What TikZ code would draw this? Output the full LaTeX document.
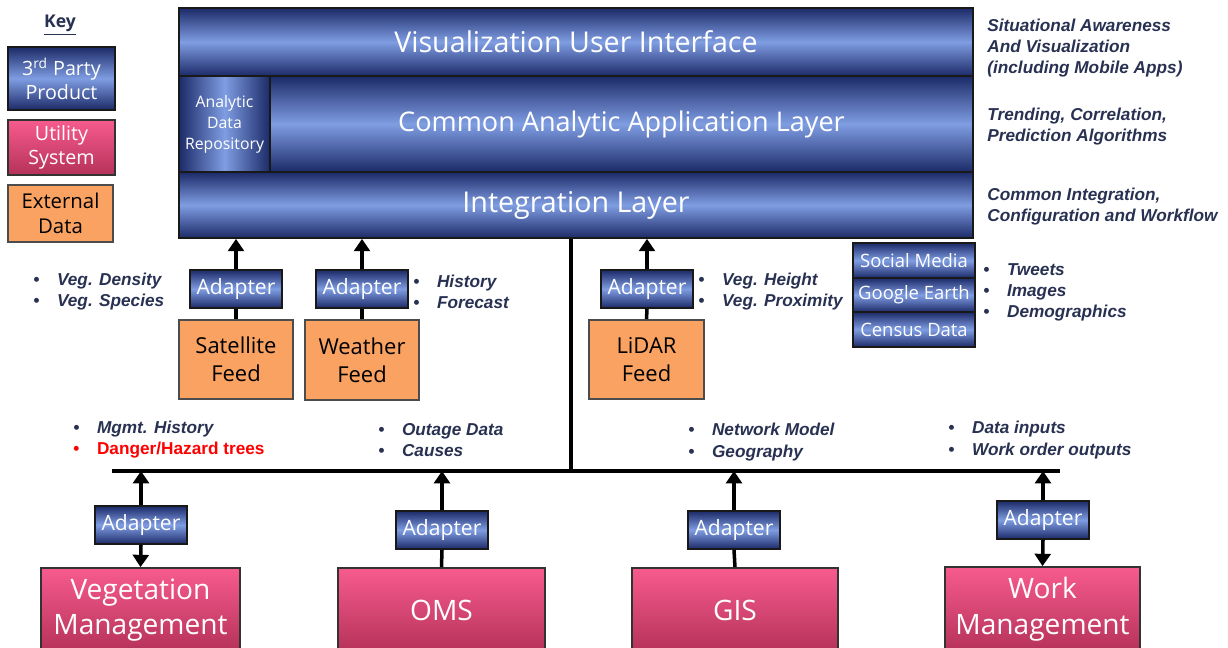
\documentclass[tikz,border=0pt]{standalone}
\usepackage{fontspec}
\setmainfont{Open Sans}
\newfontfamily\notefont{Liberation Sans}
\usepackage{tikz}
\usetikzlibrary{positioning, arrows.meta, calc}

\definecolor{navydark}{HTML}{1C2A68}
\definecolor{navylight}{HTML}{7F9DE2}
\definecolor{pinktop}{HTML}{F75B8E}
\definecolor{pinkbot}{HTML}{B5325A}
\definecolor{feedorange}{HTML}{F9A262}
\definecolor{notecol}{HTML}{283152}

\newcommand{\itm}{\makebox[13.5pt][l]{\textbullet}}

\tikzset{
  layer/.style={draw=black!90, line width=1pt, inner sep=0pt, top color=navydark, bottom color=navydark, middle color=navylight, text=white, align=center, font=\fontsize{16.3}{19}\selectfont},
  adapter/.style={layer, minimum width=1.84cm, minimum height=0.76cm, font=\fontsize{12}{14}\selectfont},
  utility/.style={draw=black!80, line width=1pt, inner sep=0pt, top color=pinktop, bottom color=pinkbot, text=white, align=center, font=\fontsize{16}{20.4}\selectfont},
  feed/.style={draw=black!70, line width=1pt, inner sep=0pt, fill=feedorange, align=center, font=\fontsize{12.5}{16}\selectfont},
  note/.style={text=notecol, align=left, inner sep=0pt, anchor=west, font=\notefont\bfseries\itshape\fontsize{9.8}{12}\selectfont},
  link/.style={line width=2pt},
  uparrow/.style={link, -{Triangle[length=7pt,width=9pt]}},
}

\begin{document}
\begin{tikzpicture}[x=0.02cm, y=-0.02cm]
    \useasboundingbox (0,0) rectangle (1228,647);
    \clip (0,0) rectangle (1228,647);

    % Key
    \node[text=notecol, font=\bfseries\fontsize{10}{12}\selectfont] (keytitle) at (60,25) {\underline{Key}};
    \node[layer, minimum width=2.14cm, minimum height=1.26cm, font=\fontsize{11.2}{13.6}\selectfont] (keyprod) at (61.5,78.5) {3\textsuperscript{rd} Party\\Product};
    \node[utility, minimum width=2.14cm, minimum height=1.1cm, font=\fontsize{11.2}{13.6}\selectfont] (keyutil) at (61.5,147.5) {Utility\\System};
    \node[feed, minimum width=2.1cm, minimum height=1.14cm, font=\fontsize{11.6}{14.4}\selectfont] (keyext) at (60.5,213.5) {External\\Data};

    % Layers
    \node[layer, minimum width=15.88cm, minimum height=1.36cm] (vui) at (576,42) {Visualization User Interface};
    \node[layer, shading angle=90, minimum width=1.82cm, minimum height=1.92cm, font=\fontsize{9}{12}\selectfont] (adr) at (224.5,124) {Analytic\\Data\\Repository};
    \node[layer, minimum width=14.06cm, minimum height=1.92cm, font=\fontsize{15.4}{19}\selectfont] (caal) at (621.5,124) {Common Analytic Application Layer};
    \node[layer, minimum width=15.88cm, minimum height=1.32cm] (integ) at (576,205) {Integration Layer};

    \node[note] (vuinote) at (987,48) {Situational Awareness\\And Visualization\\(including Mobile Apps)};
    \node[note] (caalnote) at (987,126.5) {Trending, Correlation,\\Prediction Algorithms};
    \node[note] (integnote) at (987,206.5) {Common Integration,\\Configuration and Workflow};

    % External feeds
    \node[adapter] (adsat) at (236,289) {Adapter};
    \node[adapter] (adwx) at (362,289) {Adapter};
    \node[adapter] (adlid) at (647,289) {Adapter};
    \node[feed, minimum width=2.28cm, minimum height=1.58cm] (sat) at (236,359.5) {Satellite\\Feed};
    \node[feed, minimum width=2.28cm, minimum height=1.6cm] (wx) at (362,360) {Weather\\Feed};
    \node[feed, minimum width=2.3cm, minimum height=1.58cm] (lidar) at (646.5,359.5) {LiDAR\\Feed};

    \draw[uparrow] (adsat.north) -- (adsat.north |- integ.south);
    \draw[uparrow] (adwx.north) -- (adwx.north |- integ.south);
    \draw[uparrow] (adlid.north) -- (adlid.north |- integ.south);
    \draw[link] (sat.north) -- (adsat.south);
    \draw[link] (wx.north) -- (adwx.south);
    \draw[link] (lidar.north) -- (adlid.south);

    \node[note] (satnote) at (33,291.5) {\itm Veg. Density\\\itm Veg. Species};
    \node[note] (wxnote) at (413,291.5) {\itm History\\\itm Forecast};
    \node[note] (lidnote) at (698,291.5) {\itm Veg. Height\\\itm Veg. Proximity};

    % Social sources
    \node[layer, minimum width=2.44cm, minimum height=0.7cm, font=\fontsize{10.5}{12}\selectfont] (social) at (914,260.5) {Social Media};
    \node[layer, minimum width=2.44cm, minimum height=0.68cm, font=\fontsize{10.5}{12}\selectfont] (gearth) at (914,295) {Google Earth};
    \node[layer, minimum width=2.44cm, minimum height=0.7cm, font=\fontsize{10.5}{12}\selectfont] (census) at (914,329.5) {Census Data};
    \node[note] (socnote) at (983,292.5) {\itm Tweets\\\itm Images\\\itm Demographics};

    % Bus
    \coordinate (busl) at (112,471);
    \coordinate (busr) at (1060,471);
    \coordinate (busj) at (571,471);
    \draw[link] (busl) -- (busr);
    \draw[link] (busj) -- (busj |- integ.south);

    % Utility systems
    \node[adapter] (adveg) at (141,525) {Adapter};
    \node[adapter] (adoms) at (442,530) {Adapter};
    \node[adapter] (adgis) at (734,530) {Adapter};
    \node[adapter] (adwm) at (1043,520) {Adapter};
    \node[utility, minimum width=3.98cm, minimum height=1.68cm] (veg) at (140.5,610) {Vegetation\\Management};
    \node[utility, minimum width=4.14cm, minimum height=1.68cm] (oms) at (441.5,610) {OMS};
    \node[utility, minimum width=4.12cm, minimum height=1.68cm] (gis) at (735,610) {GIS};
    \node[utility, minimum width=3.9cm, minimum height=1.7cm] (wm) at (1042.5,609.5) {Work\\Management};

    \draw[uparrow] (adveg.north) -- (adveg.north |- busl);
    \draw[uparrow] (adoms.north) -- (adoms.north |- busl);
    \draw[uparrow] (adgis.north) -- (adgis.north |- busl);
    \draw[uparrow] (adwm.north) -- (adwm.north |- busl);
    \draw[uparrow] (adveg.south) -- (veg.north);
    \draw[link] (adoms.south) -- (oms.north);
    \draw[link] (adgis.south) -- (gis.north);
    \draw[uparrow] (adwm.south) -- (wm.north);

    \node[note] (vegnote) at (73,440) {\itm Mgmt. History\\{\color{red}\upshape\itm Danger/Hazard trees}};
    \node[note] (omsnote) at (378,440) {\itm Outage Data\\\itm Causes};
    \node[note] (gisnote) at (688,442) {\itm Network Model\\\itm Geography};
    \node[note] (wmnote) at (948,440) {\itm Data inputs\\\itm Work order outputs};
\end{tikzpicture}
\end{document}
